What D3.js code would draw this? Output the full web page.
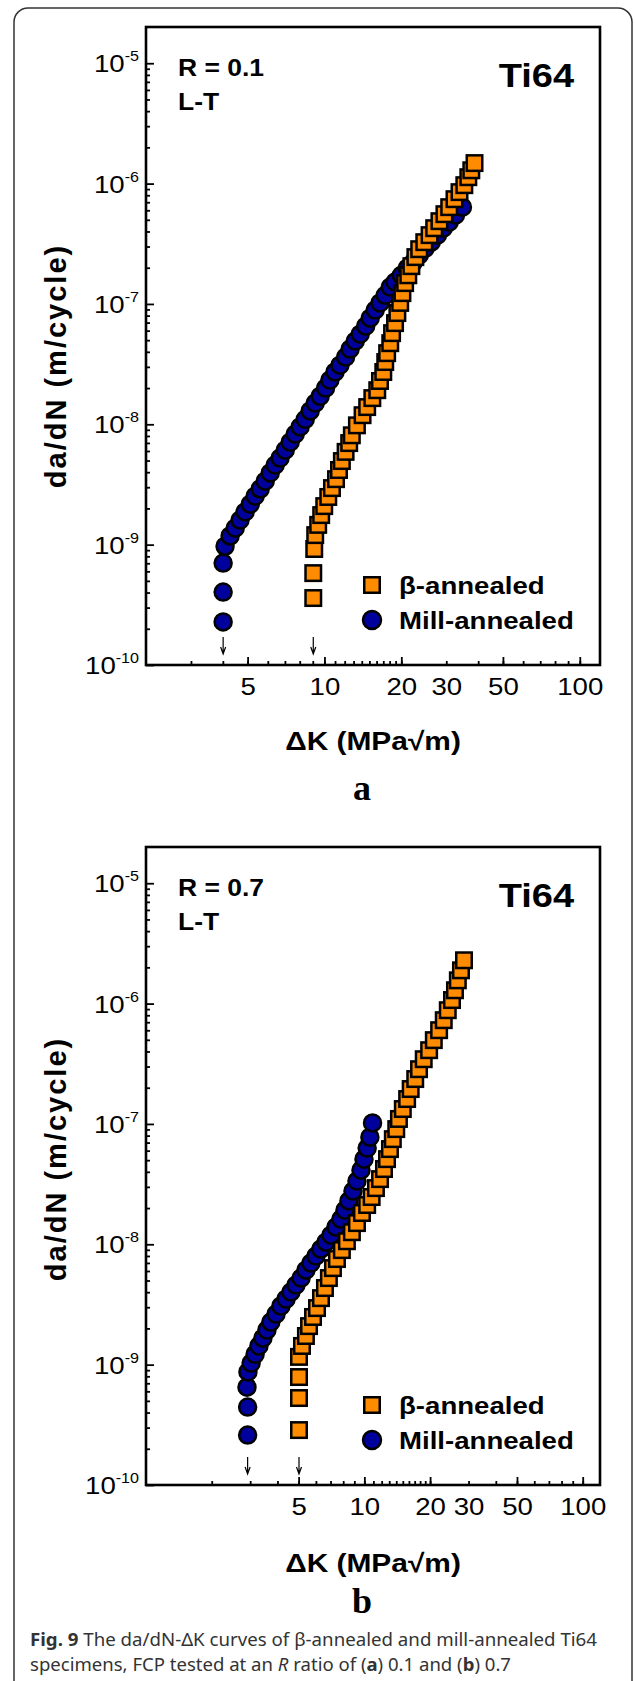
<!DOCTYPE html>
<html>
<head>
<meta charset="utf-8">
<script src="https://cdn.jsdelivr.net/npm/d3@7"></script>
<style>
  body { margin: 0; background: #fff; }
  svg text { font-family: "Liberation Sans", Arial, sans-serif; }
</style>
</head>
<body>
<div id="chart"></div>
<script>
// ---- data: [deltaK (MPa sqrt m), da/dN (m/cycle)] ----
const betaA = [
  [9.04,3.6e-10],[9.04,5.8e-10],[9.12,9.2e-10],[9.20,1.2e-9],[9.45,1.46e-9],[9.71,1.76e-9],
  [9.98,2.09e-9],[10.35,2.49e-9],[10.7,2.95e-9],[11.1,3.5e-9],[11.4,4.17e-9],[11.7,4.95e-9],
  [12.1,5.9e-9],[12.5,6.98e-9],[12.8,8.1e-9],[13.4,9.8e-9],[14.1,1.19e-8],[14.7,1.39e-8],
  [15.4,1.65e-8],[16.1,1.92e-8],[16.5,2.29e-8],[17.0,2.72e-8],[17.3,3.29e-8],[17.6,3.9e-8],
  [18.1,4.72e-8],[18.4,5.72e-8],[18.9,6.93e-8],[19.3,8.4e-8],[19.8,1.02e-7],[20.2,1.23e-7],
  [20.7,1.49e-7],[21.3,1.73e-7],[21.9,2.06e-7],[22.7,2.45e-7],[23.5,2.85e-7],[24.6,3.26e-7],
  [25.8,3.73e-7],[26.9,4.26e-7],[28.2,4.87e-7],[29.5,5.57e-7],[30.8,6.37e-7],[32.3,7.42e-7],
  [33.8,8.49e-7],[35.3,9.7e-7],[36.6,1.13e-6],[37.6,1.29e-6],[38.7,1.48e-6]
];
const millA = [
  [4.01,2.28e-10],[4.01,4.04e-10],[4.01,7.03e-10],[4.08,9.7e-10],[4.27,1.18e-9],[4.47,1.37e-9],
  [4.67,1.6e-9],[4.89,1.87e-9],[5.12,2.17e-9],[5.35,2.53e-9],[5.60,2.9e-9],[5.86,3.37e-9],
  [6.13,3.94e-9],[6.41,4.58e-9],[6.70,5.24e-9],[7.02,6.1e-9],[7.34,7.1e-9],[7.68,8.3e-9],
  [8.03,9.5e-9],[8.41,1.1e-8],[8.79,1.29e-8],[9.20,1.5e-8],[9.62,1.71e-8],[10.1,2.0e-8],
  [10.5,2.33e-8],[11.0,2.72e-8],[11.5,3.1e-8],[12.1,3.62e-8],[12.6,4.22e-8],[13.2,4.91e-8],
  [13.8,5.61e-8],[14.5,6.54e-8],[15.1,7.62e-8],[15.8,8.89e-8],[16.5,1.02e-7],[17.3,1.18e-7],
  [18.1,1.38e-7],[18.9,1.52e-7],[20.0,1.73e-7],[21.1,1.98e-7],[22.3,2.22e-7],[23.5,2.54e-7],
  [24.8,2.9e-7],[26.2,3.26e-7],[27.7,3.73e-7],[29.2,4.26e-7],[30.8,4.78e-7],[32.6,5.47e-7],
  [34.7,6.37e-7]
];
const betaB = [
  [5.02,2.86e-10],[5.02,5.28e-10],[5.02,7.89e-10],[5.02,1.16e-9],[5.18,1.43e-9],[5.40,1.73e-9],
  [5.58,2.09e-9],[5.82,2.49e-9],[6.07,2.95e-9],[6.33,3.57e-9],[6.60,4.33e-9],[6.88,5.24e-9],
  [7.18,6.34e-9],[7.49,7.54e-9],[7.89,8.95e-9],[8.32,1.06e-8],[8.77,1.26e-8],[9.25,1.5e-8],
  [9.75,1.82e-8],[10.3,2.12e-8],[10.8,2.47e-8],[11.3,2.93e-8],[11.8,3.48e-8],[12.3,4.22e-8],
  [12.7,5.1e-8],[13.1,6.18e-8],[13.5,7.48e-8],[14.0,9.06e-8],[14.4,1.1e-7],[15.0,1.33e-7],
  [15.7,1.61e-7],[16.3,1.95e-7],[17.1,2.36e-7],[17.8,2.85e-7],[18.7,3.45e-7],[19.8,4.1e-7],
  [20.8,4.97e-7],[22.0,6.01e-7],[23.1,7.28e-7],[24.1,8.81e-7],[25.2,1.07e-6],[26.0,1.29e-6],
  [26.8,1.56e-6],[27.7,1.89e-6],[28.6,2.29e-6]
];
const millB = [
  [2.92,2.6e-10],[2.92,4.44e-10],[2.90,6.5e-10],[2.93,8.7e-10],[3.03,1.03e-9],[3.16,1.22e-9],
  [3.29,1.43e-9],[3.43,1.66e-9],[3.58,1.94e-9],[3.73,2.26e-9],[3.94,2.63e-9],[4.15,3.07e-9],
  [4.38,3.51e-9],[4.61,4.01e-9],[4.86,4.58e-9],[5.13,5.24e-9],[5.40,6.1e-9],[5.69,6.98e-9],
  [6.00,7.98e-9],[6.32,9.12e-9],[6.67,1.04e-8],[7.03,1.19e-8],[7.41,1.39e-8],[7.81,1.62e-8],
  [8.15,1.92e-8],[8.50,2.29e-8],[8.87,2.77e-8],[9.25,3.35e-8],[9.65,4.13e-8],[9.96,5.1e-8],
  [10.3,6.3e-8],[10.6,7.77e-8],[10.9,1.02e-7]
];

// ---- axis ticks / labels ----
const xMinorA = [3,4,5,6,7,8,9,10,11,12,13,14,15,16,17,18,19,20,30,40,50,60,70,80,90,100];
const xMinorB = [2,3,4,5,6,7,8,9,10,11,12,13,14,15,16,17,18,19,20,30,40,50,60,70,80,90,100];
const xMajor = [5,10,20,50,100];
const xLabels = [5,10,20,30,50,100];
const yExponents = [-10,-9,-8,-7,-6,-5];
const yMinor = [];
yExponents.slice(0,-1).forEach(e => [2,3,4,5,6,7,8,9].forEach(m => yMinor.push(m * Math.pow(10, e))));

const seriesNames = ['β-annealed', 'Mill-annealed'];
const colors = {beta: '#FF8C00', mill: '#00009C'};

const panels = [
  {off: 0,   xDomain: [2,120], xMinor: xMinorA, beta: betaA, mill: millA, rText: 'R = 0.1',
   letter: 'a', letterY: 800, titleY: 750, yTitleY: 366},
  {off: 820, xDomain: [1,120], xMinor: xMinorB, beta: betaB, mill: millB, rText: 'R = 0.7',
   letter: 'b', letterY: 1613, titleY: 1572, yTitleY: 1159}
];

const W = 635, H = 1681;
const left = 146, right = 600, sx = 1.15;
const sans = '"Liberation Sans", Arial, sans-serif';

const svg = d3.select('#chart').append('svg')
    .attr('width', W)
    .attr('height', H);

// rounded panel border
svg.append('rect')
    .attr('x', 14).attr('y', 8)
    .attr('width', 618).attr('height', 1720)
    .attr('rx', 14)
    .attr('fill', 'none')
    .attr('stroke', '#333')
    .attr('stroke-width', 1.5);

// text that is slightly wider than the font, as in the figure
function wideText(g, x, y, str, size, weight, anchor) {
  return g.append('text')
      .attr('transform', `translate(${x},${y}) scale(${sx},1)`)
      .attr('text-anchor', anchor || 'start')
      .style('font-family', sans)
      .attr('font-size', size)
      .attr('font-weight', weight || 'normal')
      .text(str);
}

function drawPanel(p) {
  const top = 27 + p.off, bottom = 665 + p.off;
  const g = svg.append('g');

  const x = d3.scaleLog().domain(p.xDomain).range([left, right]);
  const y = d3.scaleLog().domain([1e-10, 2e-5]).range([bottom, top]);

  // x ticks (inward)
  g.append('g')
      .attr('transform', `translate(0,${bottom})`)
      .call(d3.axisBottom(x).tickValues(p.xMinor).tickSize(-4).tickFormat(''))
      .call(a => a.select('.domain').remove());
  g.append('g')
      .attr('transform', `translate(0,${bottom})`)
      .call(d3.axisBottom(x).tickValues(xMajor).tickSize(-8).tickFormat(''))
      .call(a => a.select('.domain').remove());
  g.append('g')
      .attr('transform', `translate(0,${bottom})`)
      .call(d3.axisBottom(x).tickValues(xLabels).tickSize(0).tickPadding(13).tickFormat(d3.format('d')))
      .call(a => a.select('.domain').remove())
      .call(a => a.selectAll('text')
          .attr('font-size', 24)
          .style('font-family', sans)
          .attr('fill', '#000')
          .attr('transform', `scale(${sx},1)`));

  // y ticks (inward)
  g.append('g')
      .attr('transform', `translate(${left},0)`)
      .call(d3.axisLeft(y).tickValues(yMinor).tickSize(-4).tickFormat(''))
      .call(a => a.select('.domain').remove());
  g.append('g')
      .attr('transform', `translate(${left},0)`)
      .call(d3.axisLeft(y).tickValues(yExponents.map(e => Math.pow(10, e))).tickSize(-8).tickFormat(''))
      .call(a => a.select('.domain').remove());
  g.selectAll('.tick line').attr('stroke', '#000').attr('stroke-width', 1.8);

  // y labels 10^n
  g.selectAll('.ylab')
      .data(yExponents)
      .join('text')
      .attr('class', 'ylab')
      .attr('transform', d => `translate(139,${y(Math.pow(10, d)) + 9}) scale(${sx},1)`)
      .attr('text-anchor', 'end')
      .style('font-family', sans)
      .attr('font-size', 24)
      .call(t => t.append('tspan').text('10'))
      .call(t => t.append('tspan').attr('font-size', 14).attr('dy', -11).text(d => d));

  // frame
  g.append('rect')
      .attr('x', left).attr('y', top)
      .attr('width', right - left).attr('height', bottom - top)
      .attr('fill', 'none')
      .attr('stroke', '#000')
      .attr('stroke-width', 2.6);

  // data: mill-annealed circles, then beta-annealed squares
  g.selectAll('.mill')
      .data(p.mill)
      .join('circle')
      .attr('class', 'mill')
      .attr('cx', d => x(d[0]))
      .attr('cy', d => y(d[1]))
      .attr('r', 8.5)
      .attr('fill', colors.mill)
      .attr('stroke', '#000')
      .attr('stroke-width', 2.5);

  g.selectAll('.beta')
      .data(p.beta)
      .join('rect')
      .attr('class', 'beta')
      .attr('x', d => x(d[0]) - 7.75)
      .attr('y', d => y(d[1]) - 7.75)
      .attr('width', 15.5)
      .attr('height', 15.5)
      .attr('fill', colors.beta)
      .attr('stroke', '#000')
      .attr('stroke-width', 2.5);

  // threshold arrows at the first data point of each series
  [p.mill[0][0], p.beta[0][0]].forEach(k => {
    const ax = x(k);
    g.append('path')
        .attr('d', `M${ax},${637 + p.off}V${653 + p.off}M${ax - 2.5},${647 + p.off}L${ax},${654 + p.off}L${ax + 2.5},${647 + p.off}`)
        .attr('fill', 'none')
        .attr('stroke', '#000')
        .attr('stroke-width', 1.2);
  });

  // legend
  g.append('rect')
      .attr('x', 372 - 7.75).attr('y', 585 + p.off - 7.75)
      .attr('width', 15.5).attr('height', 15.5)
      .attr('fill', colors.beta).attr('stroke', '#000').attr('stroke-width', 2.5);
  g.append('circle')
      .attr('cx', 372).attr('cy', 620 + p.off).attr('r', 9)
      .attr('fill', colors.mill).attr('stroke', '#000').attr('stroke-width', 2.5);
  wideText(g, 399, 594 + p.off, seriesNames[0], 24, 'bold');
  wideText(g, 399, 629 + p.off, seriesNames[1], 24, 'bold');

  // annotations
  wideText(g, 178, 76 + p.off, p.rText, 23, 'bold');
  wideText(g, 178, 110 + p.off, 'L-T', 23, 'bold');
  wideText(g, 574, 87 + p.off, 'Ti64', 33, 'bold', 'end');

  // axis titles
  wideText(g, 373, p.titleY, 'ΔK (MPa√m)', 26, 'bold', 'middle');
  g.append('text')
      .attr('transform', `translate(66,${p.yTitleY}) rotate(-90)`)
      .attr('text-anchor', 'middle')
      .style('font-family', sans)
      .attr('font-size', 29)
      .attr('font-weight', 'bold')
      .attr('letter-spacing', 2)
      .text('da/dN (m/cycle)');

  // panel letter
  g.append('text')
      .attr('x', 362).attr('y', p.letterY)
      .attr('text-anchor', 'middle')
      .style('font-family', '"Liberation Serif", "Times New Roman", serif')
      .attr('font-size', 36)
      .attr('font-weight', 'bold')
      .text(p.letter);
}

panels.forEach(drawPanel);

// caption
const capFont = '"Noto Sans", "Open Sans", sans-serif';
const cap = svg.append('g')
    .attr('font-size', 17.7)
    .attr('fill', '#333');
const l1 = cap.append('text').attr('x', 30).attr('y', 1646)
    .style('font-family', capFont)
    .attr('textLength', 567).attr('lengthAdjust', 'spacingAndGlyphs');
l1.append('tspan').attr('font-weight', 'bold').text('Fig. 9');
l1.append('tspan').text(' The da/dN-ΔK curves of β-annealed and mill-annealed Ti64');
const l2 = cap.append('text').attr('x', 30).attr('y', 1671)
    .style('font-family', capFont)
    .attr('textLength', 481).attr('lengthAdjust', 'spacingAndGlyphs');
l2.append('tspan').text('specimens, FCP tested at an ');
l2.append('tspan').attr('font-style', 'italic').text('R');
l2.append('tspan').text(' ratio of (');
l2.append('tspan').attr('font-weight', 'bold').text('a');
l2.append('tspan').text(') 0.1 and (');
l2.append('tspan').attr('font-weight', 'bold').text('b');
l2.append('tspan').text(') 0.7');
</script>
</body>
</html>
